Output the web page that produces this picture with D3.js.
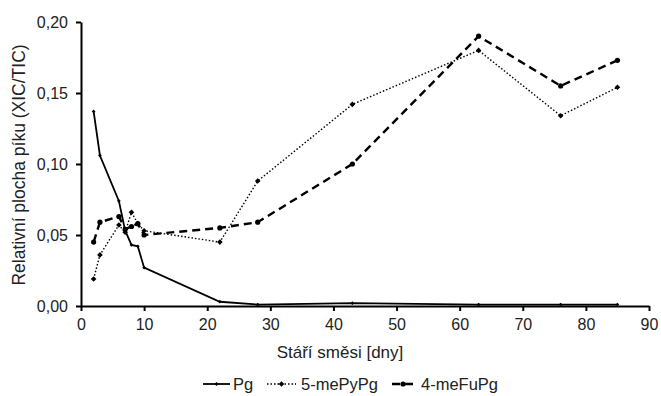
<!DOCTYPE html>
<html>
<head>
<meta charset="utf-8">
<script src="https://cdn.jsdelivr.net/npm/d3@7"></script>
<style>
  html, body { margin: 0; padding: 0; background: #fff; }
  svg { display: block; font-family: "Liberation Sans", Arial, sans-serif; }
</style>
</head>
<body>
<svg id="chart" width="661" height="396"></svg>
<script>
// Stáří směsi (dny)
const days = [2, 3, 6, 7, 8, 9, 10, 22, 28, 43, 63, 76, 85];

// Relativní plocha píku (XIC/TIC)
const pg       = [0.137, 0.106, 0.074, 0.053, 0.043, 0.042, 0.027, 0.003, 0.001, 0.002, 0.001, 0.001, 0.001];
const mePyPg   = [0.019, 0.036, 0.057, 0.052, 0.066, 0.058, 0.053, 0.045, 0.088, 0.142, 0.180, 0.134, 0.154];
const meFuPg   = [0.045, 0.059, 0.063, 0.054, 0.056, 0.058, 0.050, 0.055, 0.059, 0.100, 0.190, 0.155, 0.173];

const xTicks = [0, 10, 20, 30, 40, 50, 60, 70, 80, 90];
const yTicks = [0, 0.05, 0.10, 0.15, 0.20];

const seriesNames = ["Pg", "5-mePyPg", "4-meFuPg"];

const svg = d3.select("#chart");
const plotLeft = 81, plotRight = 649, plotTop = 22, plotBottom = 306;

const x = d3.scaleLinear().domain([0, 90]).range([plotLeft, plotRight]);
const y = d3.scaleLinear().domain([0, 0.20]).range([plotBottom, plotTop]);

const fmt = d => d3.format(".2f")(d).replace(".", ",");

// Axes
const xAxis = svg.append("g")
  .attr("transform", `translate(0,${plotBottom})`)
  .call(d3.axisBottom(x).tickValues(xTicks).tickSize(5).tickPadding(8).tickSizeOuter(0));
const yAxis = svg.append("g")
  .attr("transform", `translate(${plotLeft},0)`)
  .call(d3.axisLeft(y).tickValues(yTicks).tickFormat(fmt).tickSize(5).tickPadding(8).tickSizeOuter(0));

[xAxis, yAxis].forEach(g => {
  g.select(".domain").attr("stroke", "#000").attr("stroke-width", 2);
  g.selectAll(".tick line").attr("stroke", "#000").attr("stroke-width", 2);
  g.selectAll(".tick text").attr("fill", "#222").style("font-size", "16px")
    .style("font-family", "'Liberation Sans', Arial, sans-serif");
});

// Axis titles
svg.append("text")
  .attr("x", 340).attr("y", 358)
  .attr("text-anchor", "middle")
  .style("font-size", "17px").attr("fill", "#222")
  .text("Stáří směsi [dny]");
svg.append("text")
  .attr("transform", `translate(25,165) rotate(-90)`)
  .attr("text-anchor", "middle")
  .style("font-size", "17.5px").attr("fill", "#222")
  .text("Relativní plocha píku (XIC/TIC)");

// Series styles
const styles = [
  { values: pg,     width: 1.8, dash: null,    marker: "plus" },
  { values: mePyPg, width: 1.4, dash: "1.5,2", marker: "diamond" },
  { values: meFuPg, width: 2.4, dash: "8,5",   marker: "circle" }
];

const line = d3.line().x(d => x(d[0])).y(d => y(d[1]));

function drawMarker(g, type, cx, cy) {
  if (type === "circle") {
    g.append("circle").attr("cx", cx).attr("cy", cy).attr("r", 2.6).attr("fill", "#000");
  } else if (type === "diamond") {
    g.append("path").attr("d", d3.symbol(d3.symbolDiamond2, 20)()).attr("transform", `translate(${cx},${cy})`).attr("fill", "#000");
  } else {
    g.append("path").attr("d", d3.symbol(d3.symbolDiamond2, 9)()).attr("transform", `translate(${cx},${cy})`).attr("fill", "#000");
  }
}

styles.forEach(s => {
  const pts = days.map((d, i) => [d, s.values[i]]);
  const g = svg.append("g");
  g.append("path").attr("d", line(pts))
    .attr("fill", "none").attr("stroke", "#000")
    .attr("stroke-width", s.width)
    .attr("stroke-dasharray", s.dash);
  pts.forEach(p => drawMarker(g, s.marker, x(p[0]), y(p[1])));
});

// Legend
const legendItems = [
  { x1: 203, x2: 230, tx: 233 },
  { x1: 267, x2: 296, tx: 301 },
  { x1: 392, x2: 414, tx: 421 }
];
const ly = 384;
legendItems.forEach((it, i) => {
  const s = styles[i];
  const g = svg.append("g");
  g.append("line").attr("x1", it.x1).attr("x2", it.x2).attr("y1", ly).attr("y2", ly)
    .attr("stroke", "#000").attr("stroke-width", s.width).attr("stroke-dasharray", s.dash);
  drawMarker(g, s.marker, (it.x1 + it.x2) / 2, ly);
  g.append("text").attr("x", it.tx).attr("y", ly + 6)
    .style("font-size", "16.5px").attr("fill", "#222")
    .text(seriesNames[i]);
});
</script>
</body>
</html>
